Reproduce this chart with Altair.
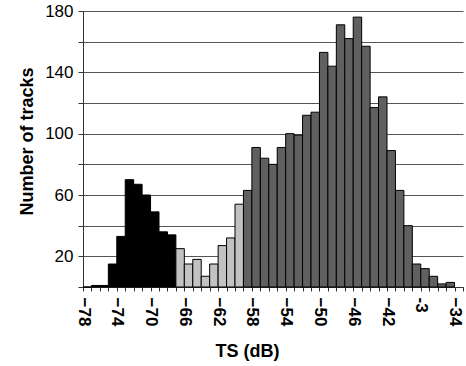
import altair as alt
import pandas as pd

# Left edge of each 1-dB TS bin (dB)
ts_bins = [-78, -77, -76, -75, -74, -73, -72, -71, -70, -69, -68,
           -67, -66, -65, -64, -63, -62, -61, -60,
           -59, -58, -57, -56, -55, -54, -53, -52, -51, -50,
           -49, -48, -47, -46, -45, -44, -43, -42, -41, -40,
           -39, -38, -37, -36, -35]
# Number of tracks per bin
counts = [0, 1, 1, 15, 33, 70, 67, 60, 49, 36, 34,
          25, 15, 18, 7, 15, 27, 32, 54,
          63, 91, 84, 80, 91, 100, 99, 112, 114, 153,
          144, 171, 162, 176, 157, 117, 124, 89, 63, 40,
          15, 12, 7, 2, 3]
# Shading group of each bin
groups = (["black"] * 11) + (["light"] * 8) + (["dark"] * 25)

group_names = ["black", "light", "dark"]
group_colors = ["#000000", "#c2c2c2", "#606060"]

y_grid = [0, 20, 40, 60, 80, 100, 120, 140, 160, 180]
x_ticks = list(range(-78, -32))

df = pd.DataFrame({"ts": ts_bins, "n": counts, "grp": groups})

FONT = "Liberation Sans"

chart = alt.Chart(df).transform_calculate(
    ts2="datum.ts + 1"
).mark_rect(stroke="#000000", strokeWidth=1).encode(
    x=alt.X("ts:Q",
            scale=alt.Scale(domain=[-78, -33], nice=False, zero=False),
            axis=alt.Axis(values=x_ticks, title="TS (dB)", grid=False,
                          labelAngle=90, labelFontSize=17, labelFontWeight="bold",
                          labelExpr="(datum.value + 78) % 4 == 0 ? (datum.value == -38 ? '-3' : datum.label) : ''",
                          labelOverlap=False, labelBound=False, labelFlush=False,
                          labelPadding=6, tickSize=4, tickColor="#333333",
                          domainColor="#333333",
                          titleFontSize=18, titleFontWeight="bold",
                          titleX=164, titleY=64, titleBaseline="middle")),
    x2="ts2:Q",
    y=alt.Y("n:Q",
            scale=alt.Scale(domain=[0, 180], nice=False),
            axis=alt.Axis(values=y_grid, title="Number of tracks", grid=True,
                          gridColor="#555555", gridWidth=1.2,
                          labelFontSize=17,
                          labelExpr="indexof([20, 60, 100, 140, 180], datum.value) >= 0 ? datum.label : ''",
                          labelOverlap=False, labelFlush=False,
                          labelPadding=5, tickSize=5, tickColor="#333333",
                          domainColor="#333333",
                          titleFontSize=18, titleFontWeight="bold",
                          titleX=-56, titleY=130, titleAngle=-90, titleBaseline="middle")),
    fill=alt.Fill("grp:N", scale=alt.Scale(domain=group_names, range=group_colors), legend=None),
).properties(
    width=380, height=276,
    autosize=alt.AutoSizeParams(type="none"),
    padding={"left": 83, "top": 11, "right": 3, "bottom": 79},
).configure(font=FONT).configure_view(stroke=None).configure_axis(
    labelFont=FONT, titleFont=FONT, labelColor="#000000", titleColor="#000000"
)

chart.save("out.html", embed_options={"renderer": "svg", "actions": False})
